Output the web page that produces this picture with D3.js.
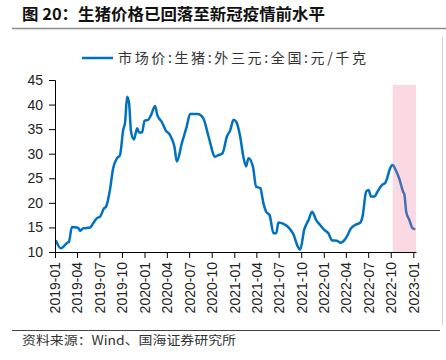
<!DOCTYPE html>
<html>
<head>
<meta charset="utf-8">
<script src="https://cdn.jsdelivr.net/npm/d3@7"></script>
<style>
  html, body { margin: 0; padding: 0; background: #fff; }
  svg { display: block; }
</style>
</head>
<body>
<svg id="chart" width="446" height="360"></svg>
<script>
// ---- data ----
const dates = [
  "2019-01-04","2019-01-25","2019-02-18","2019-02-27","2019-03-11","2019-04-05","2019-04-13","2019-04-25",
  "2019-05-24","2019-06-05","2019-06-21","2019-07-04","2019-07-20","2019-07-28","2019-08-13","2019-08-26",
  "2019-09-11","2019-09-23","2019-10-06","2019-10-14","2019-10-22","2019-10-30","2019-11-07","2019-11-19",
  "2019-12-02","2019-12-10","2019-12-22","2020-01-01","2020-01-16","2020-01-28","2020-02-13","2020-02-22",
  "2020-03-11","2020-03-28","2020-04-14","2020-05-02","2020-05-12","2020-06-01","2020-06-21","2020-07-05",
  "2020-07-22","2020-08-05","2020-08-28","2020-09-18","2020-10-15","2020-10-28","2020-11-14","2020-12-02",
  "2020-12-15","2020-12-29","2021-01-09","2021-01-25","2021-02-07","2021-02-18","2021-02-28","2021-03-18",
  "2021-03-31","2021-04-17","2021-04-30","2021-05-11","2021-05-25","2021-06-10","2021-06-21","2021-06-30",
  "2021-07-21","2021-08-14","2021-08-31","2021-09-16","2021-09-27","2021-10-13","2021-10-31","2021-11-14",
  "2021-12-01","2021-12-17","2022-01-03","2022-01-20","2022-02-03","2022-02-24","2022-03-09","2022-03-29",
  "2022-04-09","2022-04-19","2022-05-09","2022-05-30","2022-06-08","2022-06-23","2022-07-03","2022-07-12",
  "2022-07-27","2022-08-08","2022-08-26","2022-09-09","2022-09-18","2022-09-26","2022-10-09","2022-10-20",
  "2022-11-06","2022-11-20","2022-11-26","2022-12-03","2022-12-16","2022-12-27","2023-01-09"
];
const prices = [
  12.4,10.75,11.8,12.1,15.1,14.95,14.3,14.8,
  15.0,15.8,16.9,17.2,18.9,19.2,22.6,27.0,
  29.1,29.7,34.8,36.5,41.6,40.3,34.5,32.9,
  35.2,34.3,34.3,36.7,36.9,37.9,39.7,37.9,
  36.5,34.7,33.8,31.4,28.4,32.1,35.5,38.1,
  38.1,38.1,37.2,33.5,29.4,29.7,30.1,33.5,
  34.7,36.9,36.5,33.5,29.4,27.4,29.1,27.4,
  23.3,23.0,19.9,18.2,17.5,13.8,13.8,16.0,
  15.7,14.8,13.5,11.2,10.5,14.5,16.5,18.2,
  16.5,15.5,14.5,13.8,12.4,12.3,11.9,12.6,
  13.5,14.6,15.5,16.0,17.2,22.3,22.6,21.3,
  21.3,22.3,23.6,24.1,25.3,26.7,27.7,26.8,
  24.7,22.3,21.6,18.2,16.5,15.0,14.6
];
const xTickLabels = ["2019-01","2019-04","2019-07","2019-10","2020-01","2020-04","2020-07","2020-10",
  "2021-01","2021-04","2021-07","2021-10","2022-01","2022-04","2022-07","2022-10","2023-01"];
const yTicks = [10,15,20,25,30,35,40,45];
const bandStart = "2022-10-09";
const bandEnd = "2023-01-12";
const bandTop = 44;
const seriesName = "市场价:生猪:外三元:全国:元/千克";
const titleText = "图 20：生猪价格已回落至新冠疫情前水平";
const sourceText = "资料来源：Wind、国海证券研究所";

// ---- drawing ----
(function () {
const parse = d3.timeParse("%Y-%m-%d");
const parseM = d3.timeParse("%Y-%m");
const data = dates.map((d, i) => ({ date: parse(d), value: prices[i] }));

const svg = d3.select("#chart");
const pLeft = 55, pRight = 416, pTop = 80, pBottom = 252;

const x = d3.scaleTime().domain([parse("2019-01-01"), parse("2023-01-12")]).range([pLeft, pRight]);
const y = d3.scaleLinear().domain([10, 45]).range([pBottom, pTop]);

// title
svg.append("text")
  .attr("x", 22).attr("y", 20)
  .attr("font-family", "'Noto Sans CJK SC', sans-serif")
  .attr("font-weight", "bold")
  .attr("font-size", 16)
  .attr("fill", "#111")
  .attr("textLength", 303).attr("lengthAdjust", "spacingAndGlyphs")
  .text(titleText);
svg.append("line").attr("x1", 12).attr("x2", 446).attr("y1", 28.5).attr("y2", 28.5)
  .attr("stroke", "#8c8c8c").attr("stroke-width", 1.5);
svg.append("line").attr("x1", 442.5).attr("x2", 442.5).attr("y1", 37).attr("y2", 325)
  .attr("stroke", "#d0d0d0").attr("stroke-width", 1);

// legend
svg.append("line").attr("x1", 82).attr("x2", 113).attr("y1", 58).attr("y2", 58)
  .attr("stroke", "#0070c0").attr("stroke-width", 2.5);
svg.append("text")
  .attr("x", 118).attr("y", 63)
  .attr("font-family", "'Noto Sans CJK SC', sans-serif")
  .attr("font-size", 14)
  .attr("fill", "#333")
  .attr("textLength", 248).attr("lengthAdjust", "spacing")
  .text(seriesName);

// line
const line = d3.line().x(d => x(d.date)).y(d => y(d.value)).curve(d3.curveMonotoneX);
svg.append("path").datum(data)
  .attr("fill", "none").attr("stroke", "#0070c0").attr("stroke-width", 2.5)
  .attr("stroke-linejoin", "round")
  .attr("d", line);

// shaded band (over the line, semi-transparent)
svg.append("rect")
  .attr("x", x(parse(bandStart)))
  .attr("y", y(bandTop))
  .attr("width", x(parse(bandEnd)) - x(parse(bandStart)))
  .attr("height", y(10) - y(bandTop))
  .attr("fill", "rgb(240,120,150)").attr("opacity", 0.28);

// y axis
const yAxis = svg.append("g").attr("transform", `translate(${pLeft},0)`)
  .call(d3.axisLeft(y).tickValues(yTicks).tickSize(6).tickPadding(6).tickFormat(d3.format("d")));
yAxis.selectAll("text").attr("font-family", "'Liberation Sans', Arial, sans-serif")
  .attr("font-size", 14).attr("fill", "#222");
yAxis.selectAll("line,path").attr("stroke", "#000");

// x axis
const xAxis = svg.append("g").attr("transform", `translate(0,${pBottom})`)
  .call(d3.axisBottom(x).tickValues(xTickLabels.map(parseM)).tickSize(6).tickSizeOuter(0)
    .tickFormat(d3.timeFormat("%Y-%m")));
xAxis.selectAll("line,path").attr("stroke", "#000");
xAxis.selectAll("text")
  .attr("font-family", "'Liberation Sans', Arial, sans-serif")
  .attr("font-size", 14).attr("fill", "#222")
  .attr("text-anchor", "end")
  .attr("transform", "rotate(-90)")
  .attr("x", -10).attr("y", 0).attr("dy", "0.35em");

// footer
svg.append("line").attr("x1", 12).attr("x2", 440).attr("y1", 330.5).attr("y2", 330.5)
  .attr("stroke", "#444").attr("stroke-width", 1);
svg.append("text")
  .attr("x", 22).attr("y", 345)
  .attr("font-family", "'Noto Sans CJK SC', sans-serif")
  .attr("font-size", 12.5)
  .attr("fill", "#333")
  .attr("textLength", 214).attr("lengthAdjust", "spacingAndGlyphs")
  .text(sourceText);
})();
</script>
</body>
</html>
